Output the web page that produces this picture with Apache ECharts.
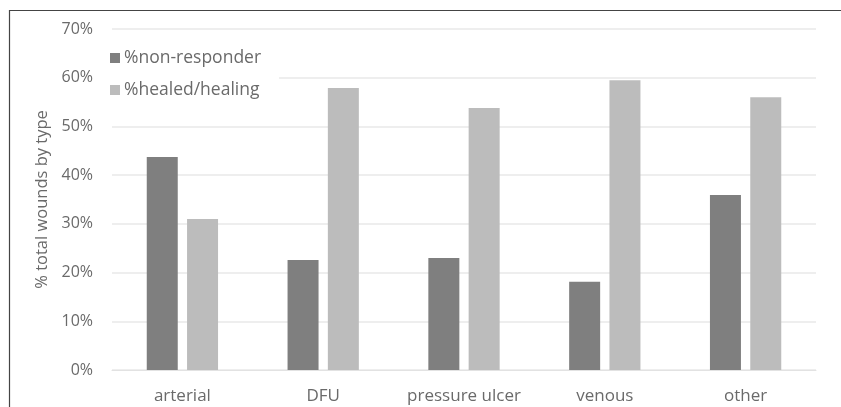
<!DOCTYPE html>
<html>
<head>
<meta charset="utf-8">
<script src="https://cdn.jsdelivr.net/npm/echarts@6/dist/echarts.min.js"></script>
<style>
html,body{margin:0;padding:0;background:#fff;}
#c{width:841px;height:407px;}
</style>
</head>
<body>
<div id="c"></div>
<script>
const categories = ['arterial', 'DFU', 'pressure ulcer', 'venous', 'other'];
const nonResponder = [43.7, 22.6, 23.0, 18.1, 35.9];
const healedHealing = [31.0, 57.9, 53.8, 59.5, 56.0];
const seriesNames = ['%non-responder', '%healed/healing'];
const yTicks = [0, 10, 20, 30, 40, 50, 60, 70];

const FONT = 'Open Sans';
const chart = echarts.init(document.getElementById('c'), null, {renderer: 'canvas'});
chart.setOption({
  animation: false,
  backgroundColor: '#fff',
  graphic: [{
    type: 'polyline',
    shape: {points: [[9.5, 407], [9.5, 10.5], [841, 10.5]]},
    style: {stroke: '#444', lineWidth: 1.2, fill: null},
    silent: true
  }],
  grid: {left: 112, right: 25, top: 29, bottom: 37},
  legend: {
    orient: 'vertical',
    left: 104,
    top: 45,
    itemWidth: 10,
    itemHeight: 10,
    itemGap: 14,
    padding: [4, 18, 4, 6],
    backgroundColor: '#fff',
    icon: 'rect',
    textStyle: {fontFamily: FONT, fontSize: 17.5, color: '#6a6a6a', padding: [0, 0, 0, -1]},
    data: seriesNames
  },
  xAxis: {
    type: 'category',
    data: categories,
    axisLine: {lineStyle: {color: '#e2e2e2', width: 1}},
    axisTick: {show: false},
    axisLabel: {fontFamily: FONT, fontSize: 17, color: '#6a6a6a', margin: 18, interval: 0, hideOverlap: false}
  },
  yAxis: {
    type: 'value',
    min: yTicks[0],
    max: yTicks[yTicks.length - 1],
    interval: 10,
    name: '% total wounds by type',
    nameLocation: 'middle',
    nameGap: 60,
    nameTextStyle: {fontFamily: FONT, fontSize: 16.5, color: '#6a6a6a'},
    axisLine: {show: false},
    axisTick: {show: false},
    axisLabel: {fontFamily: FONT, fontSize: 16, color: '#6a6a6a', margin: 19, formatter: v => v + '%'},
    splitLine: {lineStyle: {color: '#e8e8e8', width: 1.5}}
  },
  series: [
    {
      name: seriesNames[0], type: 'bar', data: nonResponder,
      barWidth: 31, barGap: '30%',
      itemStyle: {color: '#7f7f7f'}
    },
    {
      name: seriesNames[1], type: 'bar', data: healedHealing,
      barWidth: 31, barGap: '30%',
      itemStyle: {color: '#bcbcbc'}
    }
  ]
});
</script>
</body>
</html>
